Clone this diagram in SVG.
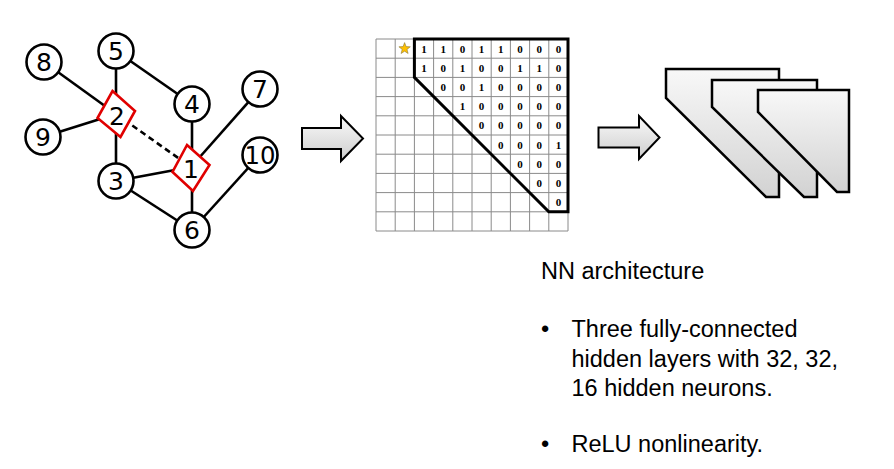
<svg xmlns="http://www.w3.org/2000/svg" width="894" height="469" viewBox="0 0 894 469">
<defs>
<linearGradient id="gArrow" x1="0" y1="0" x2="0" y2="1">
<stop offset="0" stop-color="#fafafa"/>
<stop offset="1" stop-color="#cdcdcd"/>
</linearGradient>
<linearGradient id="gLayer" x1="0" y1="0" x2="0" y2="1">
<stop offset="0" stop-color="#f8f8f8"/>
<stop offset="1" stop-color="#d2d2d2"/>
</linearGradient>
</defs>
<style>
.edge{stroke:#000;stroke-width:2.6;fill:none}
.dash{stroke-dasharray:6 4}
.node circle{fill:#fff;stroke:#000;stroke-width:2.6}
.node polygon{fill:#fff;stroke:#e00000;stroke-width:2.6}
.lbl{font-family:"DejaVu Sans",sans-serif;font-size:25px;text-anchor:middle;fill:#000}
.grid line{stroke:#8a8a8a;stroke-width:1}
.m{font-family:"Liberation Serif",serif;font-weight:bold;font-size:11px;text-anchor:middle;fill:#000}
.blk{fill:url(#gArrow);stroke:#000;stroke-width:2;stroke-linejoin:miter}
.layer{fill:url(#gLayer);stroke:#000;stroke-width:2.5;stroke-linejoin:miter}
.t{font-family:"Liberation Sans",Arial,sans-serif;font-size:23.5px;fill:#000}
</style>
<rect width="894" height="469" fill="#fff"/>

<g id="connectors">
<line class="edge" x1="116" y1="51" x2="116" y2="114"/>
<line class="edge" x1="116" y1="51" x2="192" y2="104"/>
<line class="edge" x1="44" y1="62" x2="116" y2="114"/>
<line class="edge" x1="43" y1="137" x2="116" y2="114"/>
<line class="edge" x1="116" y1="114" x2="116" y2="181"/>
<line class="edge dash" x1="116" y1="114" x2="191" y2="167"/>
<line class="edge" x1="192" y1="104" x2="192" y2="167"/>
<line class="edge" x1="260" y1="89" x2="191" y2="167"/>
<line class="edge" x1="116" y1="181" x2="191" y2="167"/>
<line class="edge" x1="116" y1="181" x2="192" y2="230"/>
<line class="edge" x1="192" y1="167" x2="192" y2="230"/>
<line class="edge" x1="260" y1="155" x2="192" y2="230"/>
</g>

<g id="n5" class="node"><circle cx="116" cy="51" r="17.5"/><text class="lbl" x="116" y="60">5</text></g>
<g id="n8" class="node"><circle cx="44" cy="62" r="17.5"/><text class="lbl" x="44" y="71">8</text></g>
<g id="n9" class="node"><circle cx="43" cy="137" r="17.5"/><text class="lbl" x="43" y="146">9</text></g>
<g id="n4" class="node"><circle cx="192" cy="104" r="17.5"/><text class="lbl" x="192" y="113">4</text></g>
<g id="n7" class="node"><circle cx="260" cy="89" r="17.5"/><text class="lbl" x="260" y="98">7</text></g>
<g id="n10" class="node"><circle cx="260" cy="155" r="17.5"/><text class="lbl" x="260" y="164" textLength="31" lengthAdjust="spacingAndGlyphs">10</text></g>
<g id="n3" class="node"><circle cx="116" cy="181" r="17.5"/><text class="lbl" x="116" y="190">3</text></g>
<g id="n6" class="node"><circle cx="192" cy="230" r="17.5"/><text class="lbl" x="192" y="239">6</text></g>
<g id="n2" class="node"><polygon points="112.5,91 135,111 120.5,137 97.5,118"/><text class="lbl" x="117" y="125">2</text></g>
<g id="n1" class="node"><polygon points="187,145 209.5,165 193,191 172.5,172"/><text class="lbl" x="191" y="178">1</text></g>

<g id="arrow1"><polygon class="blk" points="302,128 341,128 341,116 363,138.5 341,161 341,149 302,149"/></g>

<g id="matrix">
<g class="grid">
<line x1="376" y1="39" x2="376" y2="231"/>
<line x1="395.2" y1="39" x2="395.2" y2="231"/>
<line x1="414.4" y1="39" x2="414.4" y2="231"/>
<line x1="433.6" y1="39" x2="433.6" y2="231"/>
<line x1="452.8" y1="39" x2="452.8" y2="231"/>
<line x1="472" y1="39" x2="472" y2="231"/>
<line x1="491.2" y1="39" x2="491.2" y2="231"/>
<line x1="510.4" y1="39" x2="510.4" y2="231"/>
<line x1="529.6" y1="39" x2="529.6" y2="231"/>
<line x1="548.8" y1="39" x2="548.8" y2="231"/>
<line x1="568" y1="39" x2="568" y2="231"/>
<line x1="376" y1="39" x2="568" y2="39"/>
<line x1="376" y1="58.2" x2="568" y2="58.2"/>
<line x1="376" y1="77.4" x2="568" y2="77.4"/>
<line x1="376" y1="96.6" x2="568" y2="96.6"/>
<line x1="376" y1="115.8" x2="568" y2="115.8"/>
<line x1="376" y1="135" x2="568" y2="135"/>
<line x1="376" y1="154.2" x2="568" y2="154.2"/>
<line x1="376" y1="173.4" x2="568" y2="173.4"/>
<line x1="376" y1="192.6" x2="568" y2="192.6"/>
<line x1="376" y1="211.8" x2="568" y2="211.8"/>
<line x1="376" y1="231" x2="568" y2="231"/>
</g>
<polygon points="404.6,42.6 406.1,46.6 410.3,46.8 407,49.4 408.1,53.5 404.6,51.2 401.1,53.5 402.2,49.4 398.9,46.8 403.1,46.6" fill="#ffc000" stroke="#8c7a3a" stroke-width="0.6"/>
<g class="m">
<text x="424" y="52.5">1</text><text x="443.2" y="52.5">1</text><text x="462.4" y="52.5">0</text><text x="481.6" y="52.5">1</text><text x="500.8" y="52.5">1</text><text x="520" y="52.5">0</text><text x="539.2" y="52.5">0</text><text x="558.4" y="52.5">0</text>
<text x="424" y="71.7">1</text><text x="443.2" y="71.7">0</text><text x="462.4" y="71.7">1</text><text x="481.6" y="71.7">0</text><text x="500.8" y="71.7">0</text><text x="520" y="71.7">1</text><text x="539.2" y="71.7">1</text><text x="558.4" y="71.7">0</text>
<text x="443.2" y="90.9">0</text><text x="462.4" y="90.9">0</text><text x="481.6" y="90.9">1</text><text x="500.8" y="90.9">0</text><text x="520" y="90.9">0</text><text x="539.2" y="90.9">0</text><text x="558.4" y="90.9">0</text>
<text x="462.4" y="110.1">1</text><text x="481.6" y="110.1">0</text><text x="500.8" y="110.1">0</text><text x="520" y="110.1">0</text><text x="539.2" y="110.1">0</text><text x="558.4" y="110.1">0</text>
<text x="481.6" y="129.3">0</text><text x="500.8" y="129.3">0</text><text x="520" y="129.3">0</text><text x="539.2" y="129.3">0</text><text x="558.4" y="129.3">0</text>
<text x="500.8" y="148.5">0</text><text x="520" y="148.5">0</text><text x="539.2" y="148.5">0</text><text x="558.4" y="148.5">1</text>
<text x="520" y="167.7">0</text><text x="539.2" y="167.7">0</text><text x="558.4" y="167.7">0</text>
<text x="539.2" y="186.9">0</text><text x="558.4" y="186.9">0</text>
<text x="558.4" y="206.1">0</text>
</g>
<polygon points="414.4,39 568,39 568,211.8 548.8,211.8 414.4,77.4" fill="none" stroke="#000" stroke-width="3" stroke-linejoin="miter"/>
</g>

<g id="arrow2"><polygon class="blk" points="598.5,127.5 639,127.5 639,116 659.5,137.5 639,159 639,147.5 598.5,147.5"/></g>

<g id="nn">
<polygon class="layer" points="666,69 779,69 779,197 766,197 666,98"/>
<polygon class="layer" points="712,80 817,80 817,197 804,197 712,107"/>
<polygon class="layer" points="758,90 849,90 849,192 837,192 758,112"/>
</g>

<g id="text">
<text class="t" x="541" y="279">NN architecture</text>
<text class="t" x="541" y="337">•</text>
<text class="t" x="571.5" y="337">Three fully-connected</text>
<text class="t" x="571.5" y="367">hidden layers with 32, 32,</text>
<text class="t" x="571.5" y="396">16 hidden neurons.</text>
<text class="t" x="541" y="452">•</text>
<text class="t" x="571.5" y="452">ReLU nonlinearity.</text>
</g>
</svg>
